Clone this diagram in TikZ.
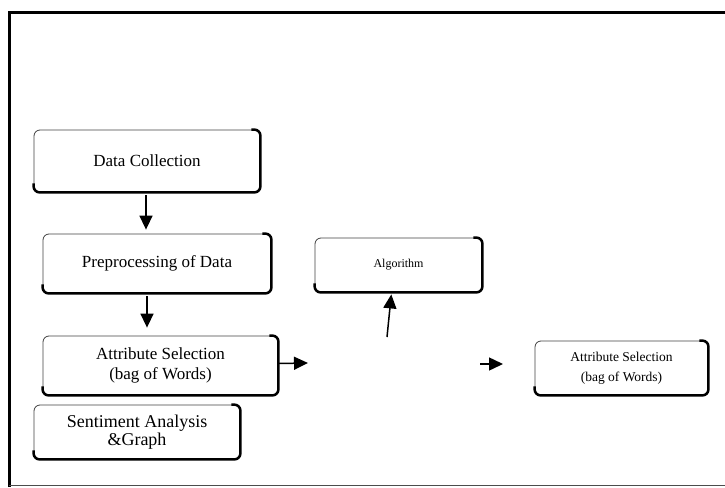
\documentclass[tikz,border=0pt]{standalone}
\usepackage{fontspec}
\setmainfont{Liberation Serif}
\usetikzlibrary{arrows.meta}

\begin{document}
\begin{tikzpicture}[x=1pt, y=-1pt,
        stepbox/.style={draw=black!75, line width=0.8pt, rounded corners=6pt, align=center, inner sep=0pt},
        bigtext/.style={font=\fontsize{17}{20}\selectfont},
        arr/.style={line width=1.5pt, -{Triangle[length=14pt,width=13pt]}}]
        \useasboundingbox (0,0) rectangle (725,487);
        \draw [line width=3pt] (9,487) -- (9,13) -- (730,13);
        \draw [black!70, line width=1pt] (9,485.5) -- (730,485.5);
        \node [stepbox, bigtext, minimum width=226pt, minimum height=62pt] (collect) at (147,161) {Data Collection};
        \node [stepbox, bigtext, minimum width=228pt, minimum height=59pt] (prep) at (157,263.5) {Preprocessing of Data};
        \node [stepbox, bigtext, minimum width=235pt, minimum height=59pt] (attrL) at (160.5,365.5) {Attribute Selection\\(bag of Words)};
        \node [stepbox, font=\fontsize{18}{15}\selectfont, minimum width=206pt, minimum height=54pt] (senti) at (137,432) {Sentiment Analysis\\\&Graph};
        \node [stepbox, font=\fontsize{12}{14}\selectfont, minimum width=167pt, minimum height=54pt] (algo) at (398.5,265) {Algorithm};
        \node [stepbox, font=\fontsize{13.5}{20}\selectfont, minimum width=173pt, minimum height=54pt] (attrR) at (621.5,368) {Attribute Selection\\(bag of Words)};
        \foreach \n in {collect, prep, attrL, senti, algo, attrR}
            \draw [line width=2.5pt, rounded corners=6pt] ([xshift=-9pt]\n.north east) -- (\n.north east) -- (\n.south east) -- (\n.south west) -- ([yshift=9pt]\n.south west);
        \coordinate (k1) at (308,363);
        \coordinate (k2) at (387,337);
        \coordinate (k3) at (480,364);
        \coordinate (k4) at (503,364);
        \draw [arr, shorten <=3pt, shorten >=4pt] ([xshift=-1pt]collect.south) -- ([xshift=-1pt]collect.south |- prep.north);
        \draw [arr, shorten <=3pt, shorten >=8pt] ([xshift=-10pt]prep.south) -- ([xshift=-10pt]prep.south |- attrL.north);
        \draw [arr] ([yshift=2pt]attrL.east) -- (k1);
        \draw [arr, shorten >=2pt] (k2) -- ([xshift=-7pt]algo.south);
        \draw [arr] (k3) -- (k4);
\end{tikzpicture}
\end{document}
